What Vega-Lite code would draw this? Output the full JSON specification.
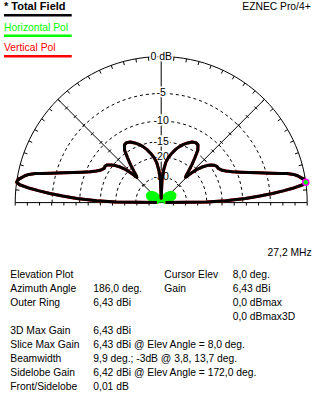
{
"$schema": "https://vega.github.io/schema/vega-lite/v6.json",
"width": 323, "height": 406, "padding": 0, "autosize": {"type": "none"},
"background": "white",
"config": {"view": {"stroke": null}, "axis": {"disable": true}, "legend": {"disable": true}, "font": "Liberation Sans"},
"datasets": {
"pattern": [
{"e":0,"g":-60},{"e":0.7,"g":-20},{"e":1.6,"g":-14},{"e":2.8,"g":-9.4},{"e":3.8,"g":-6.7},{"e":4.7,"g":-4.6},{"e":5.5,"g":-3.0},{"e":6.2,"g":-1.7},{"e":7.2,"g":-0.4},{"e":8,"g":0},
{"e":9,"g":-0.1},{"e":10,"g":-0.45},{"e":11,"g":-0.8},{"e":12,"g":-1.3},{"e":13,"g":-2.1},{"e":13.7,"g":-3.0},{"e":15,"g":-4.3},{"e":17,"g":-6.2},{"e":19,"g":-7.8},{"e":21,"g":-9.3},
{"e":23.5,"g":-10.9},{"e":26,"g":-12.1},{"e":28.5,"g":-13.0},{"e":31,"g":-13.5},{"e":33,"g":-13.5},{"e":35,"g":-13.9},{"e":37,"g":-14.6},{"e":39,"g":-15.6},{"e":41,"g":-17.0},{"e":43,"g":-19.0},
{"e":44.5,"g":-21.5},{"e":46,"g":-24.5},{"e":47.5,"g":-23.5},{"e":49,"g":-21.5},{"e":51,"g":-18.8},{"e":53,"g":-16.5},{"e":55,"g":-14.2},{"e":57.5,"g":-13.0},{"e":60,"g":-12.8},{"e":63,"g":-13.1},
{"e":66,"g":-13.8},{"e":69,"g":-14.6},{"e":72,"g":-15.6},{"e":75,"g":-16.8},{"e":78,"g":-18.3},{"e":81,"g":-20.0},{"e":83.5,"g":-22},{"e":86,"g":-26},{"e":88,"g":-32},{"e":90,"g":-60},
{"e":92,"g":-32},{"e":94,"g":-26},{"e":96.5,"g":-22},{"e":99,"g":-20},{"e":102,"g":-18.3},{"e":105,"g":-16.8},{"e":108,"g":-15.6},{"e":111,"g":-14.6},{"e":114,"g":-13.8},{"e":117,"g":-13.1},
{"e":120,"g":-12.8},{"e":122.5,"g":-13.0},{"e":125,"g":-14.2},{"e":127,"g":-16.5},{"e":129,"g":-18.8},{"e":131,"g":-21.5},{"e":132.5,"g":-23.5},{"e":134,"g":-24.5},{"e":135.5,"g":-21.5},{"e":137,"g":-19.0},
{"e":139,"g":-17.0},{"e":141,"g":-15.6},{"e":143,"g":-14.6},{"e":145,"g":-13.7},{"e":147,"g":-13.4},{"e":149,"g":-13.5},{"e":151.5,"g":-13.0},{"e":154,"g":-12.1},{"e":156.5,"g":-10.9},{"e":159,"g":-9.3},
{"e":161,"g":-7.8},{"e":163,"g":-6.2},{"e":165,"g":-4.3},{"e":166.3,"g":-3.0},{"e":167,"g":-2.1},{"e":168,"g":-1.3},{"e":169,"g":-0.8},{"e":170,"g":-0.45},{"e":171,"g":-0.1},{"e":172,"g":0},
{"e":172.8,"g":-0.4},{"e":173.8,"g":-1.7},{"e":174.5,"g":-3.0},{"e":175.3,"g":-4.6},{"e":176.2,"g":-6.7},{"e":177.2,"g":-9.4},{"e":178.4,"g":-14},{"e":179.3,"g":-20},{"e":180,"g":-60}
],
"green": [
{"e":0,"g":-70},{"e":5,"g":-50},{"e":10,"g":-45},{"e":20,"g":-40},{"e":30,"g":-38},{"e":40,"g":-38.5},{"e":50,"g":-41},{"e":60,"g":-46},{"e":75,"g":-55},{"e":90,"g":-70},
{"e":105,"g":-55},{"e":120,"g":-46},{"e":130,"g":-41},{"e":140,"g":-38.5},{"e":150,"g":-38},{"e":160,"g":-40},{"e":170,"g":-45},{"e":175,"g":-50},{"e":180,"g":-70}
],
"rings": [
{"g":0,"label":"0 dB"},{"g":-5,"label":"-5"},{"g":-10,"label":"-10"},{"g":-15,"label":"-15"},{"g":-20,"label":"-20"},{"g":-30,"label":"-30"}
],
"legend": [
{"i":0,"t":"* Total Field","c":"total"},{"i":1,"t":"Horizontal Pol","c":"hor"},{"i":2,"t":"Vertical Pol","c":"ver"}
],
"info": [
{"row":-1,"col":4,"t":"27,2 MHz"},
{"row":0,"col":0,"t":"Elevation Plot"},{"row":0,"col":2,"t":"Cursor Elev"},{"row":0,"col":3,"t":"8,0 deg."},
{"row":1,"col":0,"t":"Azimuth Angle"},{"row":1,"col":1,"t":"186,0 deg."},{"row":1,"col":2,"t":"Gain"},{"row":1,"col":3,"t":"6,43 dBi"},
{"row":2,"col":0,"t":"Outer Ring"},{"row":2,"col":1,"t":"6,43 dBi"},{"row":2,"col":3,"t":"0,0 dBmax"},
{"row":3,"col":3,"t":"0,0 dBmax3D"},
{"row":4,"col":0,"t":"3D Max Gain"},{"row":4,"col":1,"t":"6,43 dBi"},
{"row":5,"col":0,"t":"Slice Max Gain"},{"row":5,"col":1,"t":"6,43 dBi @ Elev Angle = 8,0 deg."},
{"row":6,"col":0,"t":"Beamwidth"},{"row":6,"col":1,"t":"9,9 deg.; -3dB @ 3,8, 13,7 deg."},
{"row":7,"col":0,"t":"Sidelobe Gain"},{"row":7,"col":1,"t":"6,42 dBi @ Elev Angle = 172,0 deg."},
{"row":8,"col":0,"t":"Front/Sidelobe"},{"row":8,"col":1,"t":"0,01 dB"}
]
},
"layer": [
{
"layer": [
{"data":{"name":"rings"},"transform":[{"filter":"datum.g < 0"},{"calculate":"pow(0.89,-datum.g/2)","as":"r"},{"calculate":"0","as":"cx"},{"calculate":"0","as":"cy"}],
 "mark":{"type":"point","shape":"M-1,0A1,1,0,0,1,1,0","filled":false,"color":"black","strokeWidth":1,"strokeDash":[3,3],"opacity":1},
 "encoding":{"x":{"field":"cx","type":"quantitative","scale":{"domain":[-1.10411,1.10822],"nice":false,"zero":false}},
  "y":{"field":"cy","type":"quantitative","scale":{"domain":[-1.39315,1.38767],"nice":false,"zero":false}},
  "size":{"field":"r","type":"quantitative","scale":{"type":"pow","exponent":2,"domain":[0,1],"range":[0,85264]}}}},
{"data":{"name":"rings"},"transform":[{"filter":"datum.g == 0"},{"calculate":"pow(0.89,-datum.g/2)","as":"r"},{"calculate":"0","as":"cx"},{"calculate":"0","as":"cy"}],
 "mark":{"type":"point","shape":"M-1,0A1,1,0,0,1,1,0","filled":false,"color":"black","strokeWidth":1,"opacity":1},
 "encoding":{"x":{"field":"cx","type":"quantitative","scale":{"domain":[-1.10411,1.10822],"nice":false,"zero":false}},
  "y":{"field":"cy","type":"quantitative","scale":{"domain":[-1.39315,1.38767],"nice":false,"zero":false}},
  "size":{"field":"r","type":"quantitative","scale":{"type":"pow","exponent":2,"domain":[0,1],"range":[0,85264]}}}},
{"data":{"values":[{"a":0},{"a":45},{"a":90},{"a":135},{"a":180}]},
 "transform":[{"calculate":"0","as":"cx"},{"calculate":"0","as":"cy"},{"calculate":"cos(datum.a*PI/180)","as":"ex"},{"calculate":"sin(datum.a*PI/180)","as":"ey"}],
 "mark":{"type":"rule","color":"black","strokeWidth":1},
 "encoding":{"x":{"field":"cx","type":"quantitative","scale":{"domain":[-1.10411,1.10822],"nice":false,"zero":false}},
  "y":{"field":"cy","type":"quantitative","scale":{"domain":[-1.39315,1.38767],"nice":false,"zero":false}},
  "x2":{"field":"ex"},"y2":{"field":"ey"}}},
{"data":{"values":[{"a":[5,10,15,20,25,30,35,40,45,50,55,60,65,70,75,80,85,95,100,105,110,115,120,125,130,135,140,145,150,155,160,165,170,175]}]},
 "transform":[{"flatten":["a"]},{"calculate":"cos(datum.a*PI/180)","as":"x1"},{"calculate":"sin(datum.a*PI/180)","as":"y1"},
  {"calculate":"0.975*datum.x1","as":"x2"},{"calculate":"0.975*datum.y1","as":"y2"}],
 "mark":{"type":"rule","color":"black","strokeWidth":1},
 "encoding":{"x":{"field":"x1","type":"quantitative","scale":{"domain":[-1.10411,1.10822],"nice":false,"zero":false}},
  "y":{"field":"y1","type":"quantitative","scale":{"domain":[-1.39315,1.38767],"nice":false,"zero":false}},
  "x2":{"field":"x2"},"y2":{"field":"y2"}}},
{"data":{"values":[{"a":45,"k":[1,2,3,4,5,6,7,8,9,10,11]},{"a":135,"k":[1,2,3,4,5,6,7,8,9,10,11]}]},
 "transform":[{"flatten":["k"]},
  {"calculate":"datum.k/12*cos(datum.a*PI/180)","as":"px"},{"calculate":"datum.k/12*sin(datum.a*PI/180)","as":"py"},
  {"calculate":"datum.px+0.014*sin(datum.a*PI/180)","as":"x1"},{"calculate":"datum.py-0.014*cos(datum.a*PI/180)","as":"y1"},
  {"calculate":"datum.px-0.014*sin(datum.a*PI/180)","as":"x2"},{"calculate":"datum.py+0.014*cos(datum.a*PI/180)","as":"y2"}],
 "mark":{"type":"rule","color":"black","strokeWidth":1},
 "encoding":{"x":{"field":"x1","type":"quantitative","scale":{"domain":[-1.10411,1.10822],"nice":false,"zero":false}},
  "y":{"field":"y1","type":"quantitative","scale":{"domain":[-1.39315,1.38767],"nice":false,"zero":false}},
  "x2":{"field":"x2"},"y2":{"field":"y2"}}},
{"data":{"values":[{"s":1,"k":[1,2,3,4,5,6,7,8,9,10,11,12]},{"s":-1,"k":[1,2,3,4,5,6,7,8,9,10,11,12]}]},
 "transform":[{"flatten":["k"]},{"calculate":"datum.s*datum.k/12","as":"bx"},{"calculate":"0","as":"y1"},{"calculate":"-0.02","as":"y2"}],
 "mark":{"type":"rule","color":"black","strokeWidth":1},
 "encoding":{"x":{"field":"bx","type":"quantitative","scale":{"domain":[-1.10411,1.10822],"nice":false,"zero":false}},
  "y":{"field":"y1","type":"quantitative","scale":{"domain":[-1.39315,1.38767],"nice":false,"zero":false}},
  "y2":{"field":"y2"}}},
{"data":{"name":"rings"},"transform":[{"calculate":"pow(0.89,-datum.g/2)","as":"r"},{"calculate":"0","as":"cx"}],
 "mark":{"type":"text","align":"center","baseline":"middle","fontSize":10.5,"font":"Liberation Sans","fill":"white","stroke":"white","strokeWidth":3},
 "encoding":{"x":{"field":"cx","type":"quantitative","scale":{"domain":[-1.10411,1.10822],"nice":false,"zero":false}},
  "y":{"field":"r","type":"quantitative","scale":{"domain":[-1.39315,1.38767],"nice":false,"zero":false}},
  "text":{"field":"label"}}},
{"data":{"name":"rings"},"transform":[{"calculate":"pow(0.89,-datum.g/2)","as":"r"},{"calculate":"0","as":"cx"}],
 "mark":{"type":"text","align":"center","baseline":"middle","fontSize":10.5,"font":"Liberation Sans","color":"black"},
 "encoding":{"x":{"field":"cx","type":"quantitative","scale":{"domain":[-1.10411,1.10822],"nice":false,"zero":false}},
  "y":{"field":"r","type":"quantitative","scale":{"domain":[-1.39315,1.38767],"nice":false,"zero":false}},
  "text":{"field":"label"}}},
{"data":{"name":"green"},"transform":[{"calculate":"pow(0.89,-datum.g/2)","as":"r"},{"calculate":"datum.r*cos(datum.e*PI/180)","as":"x"},{"calculate":"datum.r*sin(datum.e*PI/180)","as":"y"}],
 "mark":{"type":"line","color":"#00ff00","fill":"#00ff00","strokeWidth":3,"strokeJoin":"round"},
 "encoding":{"x":{"field":"x","type":"quantitative","scale":{"domain":[-1.10411,1.10822],"nice":false,"zero":false}},
  "y":{"field":"y","type":"quantitative","scale":{"domain":[-1.39315,1.38767],"nice":false,"zero":false}},
  "order":{"field":"e","type":"quantitative"}}},
{"data":{"name":"pattern"},"transform":[{"calculate":"pow(0.89,-datum.g/2)","as":"r"},{"calculate":"datum.r*cos(datum.e*PI/180)","as":"x"},{"calculate":"datum.r*sin(datum.e*PI/180)","as":"y"}],
 "mark":{"type":"line","color":"#ff0000","strokeWidth":3,"strokeJoin":"round"},
 "encoding":{"x":{"field":"x","type":"quantitative","scale":{"domain":[-1.10411,1.10822],"nice":false,"zero":false}},
  "y":{"field":"y","type":"quantitative","scale":{"domain":[-1.39315,1.38767],"nice":false,"zero":false}},
  "order":{"field":"e","type":"quantitative"}}},
{"data":{"name":"pattern"},"transform":[{"calculate":"pow(0.89,-datum.g/2)","as":"r"},{"calculate":"datum.r*cos(datum.e*PI/180)","as":"x"},{"calculate":"datum.r*sin(datum.e*PI/180)","as":"y"}],
 "mark":{"type":"line","color":"black","strokeWidth":3,"strokeJoin":"round"},
 "encoding":{"x":{"field":"x","type":"quantitative","scale":{"domain":[-1.10411,1.10822],"nice":false,"zero":false}},
  "y":{"field":"y","type":"quantitative","scale":{"domain":[-1.39315,1.38767],"nice":false,"zero":false}},
  "order":{"field":"e","type":"quantitative"}}},
{"data":{"values":[{"e":8,"g":0}]},"transform":[{"calculate":"pow(0.89,-datum.g/2)","as":"r"},{"calculate":"datum.r*cos(datum.e*PI/180)","as":"x"},{"calculate":"datum.r*sin(datum.e*PI/180)","as":"y"}],
 "mark":{"type":"point","shape":"circle","filled":true,"fill":"#00ff00","stroke":"#ff00ff","strokeWidth":1.5,"size":36,"opacity":1},
 "encoding":{"x":{"field":"x","type":"quantitative","scale":{"domain":[-1.10411,1.10822],"nice":false,"zero":false}},
  "y":{"field":"y","type":"quantitative","scale":{"domain":[-1.39315,1.38767],"nice":false,"zero":false}}}}
]
},
{
"data":{"name":"legend"},
"transform":[{"calculate":"0","as":"lx0"},{"calculate":"1","as":"lx1"}],
"layer":[
{"mark":{"type":"rule","strokeWidth":2.5,"yOffset":5},
 "encoding":{"x":{"field":"lx0","type":"quantitative","scale":{"domain":[0,1,2],"range":[4,71.7,310.7]}},"x2":{"field":"lx1"},
  "y":{"field":"i","type":"quantitative","scale":{"domain":[0,2],"range":[10.3,51.3]}},
  "color":{"field":"c","type":"nominal","scale":{"domain":["total","hor","ver"],"range":["#000000","#00ff00","#ff0000"]}}}},
{"transform":[{"filter":"datum.c == 'total'"}],
 "mark":{"type":"text","align":"left","baseline":"alphabetic","fontSize":11,"fontWeight":"bold","font":"Liberation Sans"},
 "encoding":{"x":{"field":"lx0","type":"quantitative","scale":{"domain":[0,1,2],"range":[4,71.7,310.7]}},
  "y":{"field":"i","type":"quantitative","scale":{"domain":[0,2],"range":[10.3,51.3]}},
  "text":{"field":"t"},
  "color":{"field":"c","type":"nominal","scale":{"domain":["total","hor","ver"],"range":["#000000","#00ff00","#ff0000"]}}}},
{"transform":[{"filter":"datum.c != 'total'"}],
 "mark":{"type":"text","align":"left","baseline":"alphabetic","fontSize":10.3,"font":"Liberation Sans"},
 "encoding":{"x":{"field":"lx0","type":"quantitative","scale":{"domain":[0,1,2],"range":[4,71.7,310.7]}},
  "y":{"field":"i","type":"quantitative","scale":{"domain":[0,2],"range":[10.3,51.3]}},
  "text":{"field":"t"},
  "color":{"field":"c","type":"nominal","scale":{"domain":["total","hor","ver"],"range":["#000000","#00ff00","#ff0000"]}}}},
{"data":{"values":[{"i":0,"col":2,"t":"EZNEC Pro/4+"}]},
 "mark":{"type":"text","align":"right","baseline":"alphabetic","fontSize":10.3,"font":"Liberation Sans","color":"black"},
 "encoding":{"x":{"field":"col","type":"quantitative","scale":{"domain":[0,1,2],"range":[4,71.7,310.7]}},
  "y":{"field":"i","type":"quantitative","scale":{"domain":[0,2],"range":[10.3,51.3]}},
  "text":{"field":"t"}}}
]
},
{
"data":{"name":"info"},
"layer":[
{"transform":[{"filter":"datum.col < 4"}],
 "mark":{"type":"text","align":"left","baseline":"alphabetic","fontSize":10.3,"font":"Liberation Sans","color":"black"},
 "encoding":{"x":{"field":"col","type":"quantitative","scale":{"domain":[0,1,2,3,4],"range":[10.3,93.3,164.3,232.7,311.7]}},
  "y":{"field":"row","type":"quantitative","scale":{"domain":[-1,0,8],"range":[256,278.3,390]}},
  "text":{"field":"t"}}},
{"transform":[{"filter":"datum.col == 4"}],
 "mark":{"type":"text","align":"right","baseline":"alphabetic","fontSize":10.3,"font":"Liberation Sans","color":"black"},
 "encoding":{"x":{"field":"col","type":"quantitative","scale":{"domain":[0,1,2,3,4],"range":[10.3,93.3,164.3,232.7,311.7]}},
  "y":{"field":"row","type":"quantitative","scale":{"domain":[-1,0,8],"range":[256,278.3,390]}},
  "text":{"field":"t"}}}
]
}
],
"resolve": {"scale": {"x": "independent", "y": "independent"}}
}
